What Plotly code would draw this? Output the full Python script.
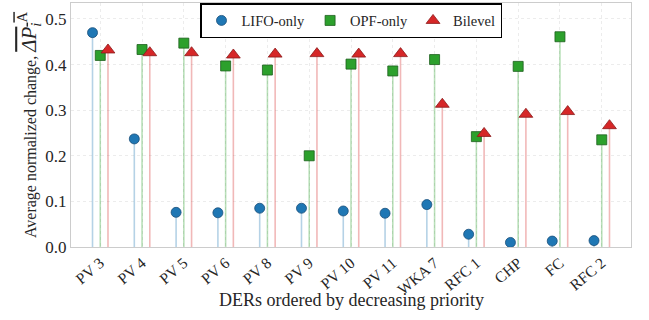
import plotly.graph_objects as go

categories = ["PV 3", "PV 4", "PV 5", "PV 6", "PV 8", "PV 9", "PV 10", "PV 11",
              "WKA 7", "RFC 1", "CHP", "FC", "RFC 2"]
lifo_only = [0.470, 0.237, 0.076, 0.075, 0.085, 0.085, 0.079, 0.074, 0.093, 0.028, 0.010, 0.013, 0.014]
opf_only = [0.420, 0.433, 0.447, 0.397, 0.388, 0.200, 0.401, 0.386, 0.411, 0.242, 0.396, 0.461, 0.235]
bilevel = [0.432, 0.426, 0.426, 0.421, 0.423, 0.424, 0.423, 0.424, 0.313, 0.249, 0.291, 0.297, 0.266]
y_ticks = [0.0, 0.1, 0.2, 0.3, 0.4, 0.5]

series = [
    ("LIFO-only", lifo_only, -0.185, "#1f77b4", "circle", 10, "#1a4f7a"),
    ("OPF-only", opf_only, 0.0, "#2ca02c", "square", 10, "#1d5e1d"),
    ("Bilevel", bilevel, 0.185, "#d62728", "triangle-up", 12, "#8a1a1a"),
]

stem_alpha = {"#1f77b4": "rgba(31,119,180,0.33)", "#2ca02c": "rgba(44,160,44,0.33)",
              "#d62728": "rgba(214,39,40,0.33)"}

fig = go.Figure()
for name, vals, off, col, sym, size, edge in series:
    xs, ys = [], []
    for i, v in enumerate(vals):
        xs += [i + off, i + off, None]
        ys += [0, v, None]
    fig.add_trace(go.Scatter(x=xs, y=ys, mode="lines", line=dict(color=stem_alpha[col], width=1.6),
                             showlegend=False, hoverinfo="skip"))
for name, vals, off, col, sym, size, edge in series:
    fig.add_trace(go.Scatter(x=[i + off for i in range(len(vals))], y=vals, mode="markers", name=name,
                             marker=dict(symbol=sym, size=size, color=col,
                                         line=dict(color=edge, width=0.8))))

font = "Liberation Serif"
ytitle = ("Average normalized change, <span style=\"font-size:21px;text-decoration:overline\">"
          "<i>ΔP</i><sub><i>i</i></sub><sup>A</sup></span>")
fig.update_layout(
    width=649, height=320,
    margin=dict(l=71, r=18, t=3, b=73),
    paper_bgcolor="white", plot_bgcolor="white",
    font=dict(family=font, size=16, color="#262626"),
    legend=dict(orientation="h", x=0.5, xanchor="center", y=1.0, yanchor="top",
                bgcolor="white", bordercolor="black", borderwidth=1.5,
                font=dict(size=14.5, family=font, color="#262626"), tracegroupgap=0),
    xaxis=dict(range=[-0.7, 12.7], tickmode="array", tickvals=list(range(len(categories))),
               ticktext=categories, tickangle=-40, showgrid=True, gridcolor="#ececec", griddash="dot",
               gridwidth=0.8, zeroline=False, showline=True, linecolor="#cccccc", linewidth=1.2, mirror=True,
               ticks="", tickfont=dict(size=15.5, family=font), automargin=False),
    yaxis=dict(range=[0, 0.535], tickmode="array", tickvals=y_ticks,
               ticktext=[f"{v:.1f}" for v in y_ticks], showgrid=True, gridcolor="#ececec", griddash="dot",
               gridwidth=0.8, zeroline=False, showline=True, linecolor="#cccccc", linewidth=1.2, mirror=True,
               ticks="", tickfont=dict(size=17, family=font), automargin=False,
               title=dict(text=ytitle, font=dict(size=16, family=font), standoff=4)),
    annotations=[dict(text="DERs ordered by decreasing priority", xref="paper", yref="paper",
                      x=0.5, y=-0.217, xanchor="center", yanchor="middle", showarrow=False,
                      font=dict(size=18, family=font, color="#262626"))],
)
fig.write_html("out.html", config={"displayModeBar": False},
               post_script="document.body.style.margin='0';")
